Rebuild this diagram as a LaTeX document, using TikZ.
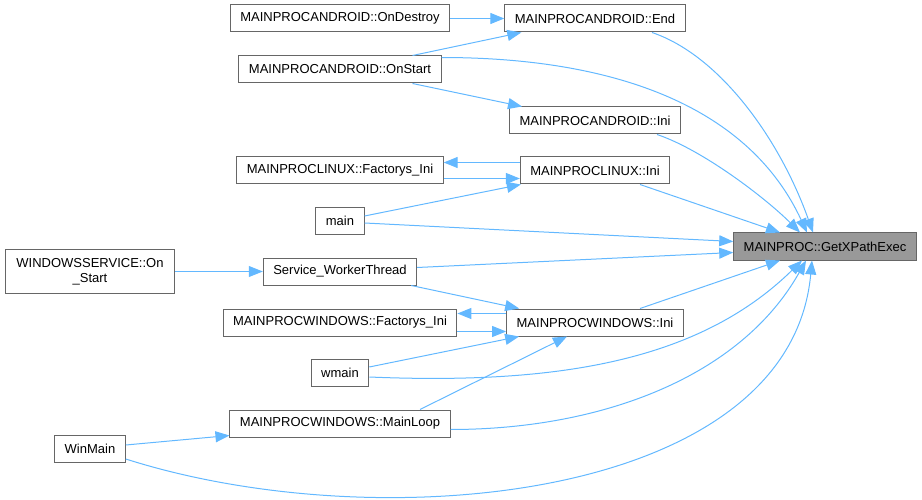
\documentclass[tikz,border=0pt]{standalone}
\usepackage{fontspec}
\setmainfont{Liberation Sans}
\usepackage{tikz}
\usetikzlibrary{arrows.meta,positioning}
\definecolor{CallBlue}{HTML}{63B8FF}
\definecolor{BoxGray}{HTML}{666666}
\definecolor{RootGray}{HTML}{999999}
\tikzset{
  fn/.style={draw=BoxGray,fill=white,line width=1pt,rectangle,minimum height=27pt,
    inner xsep=10pt,inner ysep=2pt,font=\fontsize{13}{15}\selectfont},
  rootfn/.style={fn,fill=RootGray},
  call/.style={draw=CallBlue,line width=1pt,-{Triangle[length=14pt,width=11pt]}}
}

\begin{document}
\begin{tikzpicture}[x=1pt,y=-1pt]
  \useasboundingbox (0,0) rectangle (922,500);
  \node[fn] (ondestroy) at (340,18.5) {MAINPROCANDROID::OnDestroy};
  \node[fn] (androidend) at (595,18.5) {MAINPROCANDROID::End};
  \node[fn] (onstart) at (340,69.5) {MAINPROCANDROID::OnStart};
  \node[fn] (androidini) at (595,120.5) {MAINPROCANDROID::Ini};
  \node[fn] (linuxfactorys) at (340,170.5) {MAINPROCLINUX::Factorys\_Ini};
  \node[fn] (linuxini) at (595,170.5) {MAINPROCLINUX::Ini};
  \node[fn] (mainfn) at (340,221) {main};
  \node[rootfn] (root) at (825,246.5) {MAINPROC::GetXPathExec};
  \node[fn,align=center,minimum height=43pt,inner xsep=11pt] (onstartsvc) at (90,271.5) {WINDOWSSERVICE::On\\\_Start};
  \node[fn] (workerthread) at (340,271.5) {Service\_WorkerThread};
  \node[fn] (winfactorys) at (340,322.5) {MAINPROCWINDOWS::Factorys\_Ini};
  \node[fn] (winini) at (595,322.5) {MAINPROCWINDOWS::Ini};
  \node[fn] (wmainfn) at (340,373) {wmain};
  \node[fn] (mainloop) at (340,423.5) {MAINPROCWINDOWS::MainLoop};
  \node[fn] (winmainfn) at (90,449) {WinMain};

  % android callers
  \draw[call] (ondestroy.east) -- (androidend.west);
  \draw[call] ([xshift=-29pt]onstart.north east) -- ([xshift=17pt]androidend.south west);
  \draw[call] ([xshift=-29pt]onstart.south east) -- ([xshift=13pt]androidini.north west);
  \draw[call] ([yshift=-2pt]onstart.north east) .. controls +(179,0) and +(-57,-123) .. ([xshift=-18pt]root.north);
  \draw[call] ([xshift=57pt]androidend.south) .. controls +(68,23) and +(-33,-93) .. ([xshift=-12pt]root.north);
  \draw[call] ([xshift=62pt]androidini.south) .. controls +(45,15) and +(-35,-35) .. ([xshift=-25pt]root.north);

  % linux callers
  \draw[call] ([yshift=8pt]linuxini.west) -- ([yshift=8pt]linuxfactorys.east);
  \draw[call] ([yshift=-8pt]linuxfactorys.east) -- ([yshift=-8pt]linuxini.west);
  \draw[call] ([yshift=5pt]mainfn.east) -- ([xshift=1pt]linuxini.south west);
  \draw[call] ([yshift=-2pt]mainfn.east) -- ([yshift=5pt]root.west);
  \draw[call] ([xshift=45pt]linuxini.south) -- ([xshift=-45pt]root.north);

  % windows callers
  \draw[call] (onstartsvc.east) -- (workerthread.west);
  \draw[call] ([yshift=4pt]workerthread.east) -- ([yshift=-6pt]root.west);
  \draw[call] ([xshift=-6pt]workerthread.south east) -- ([xshift=13pt]winini.north west);
  \draw[call] ([xshift=45pt]winini.north) -- ([xshift=-45pt]root.south);
  \draw[call] ([yshift=9pt]winini.west) -- ([yshift=9pt]winfactorys.east);
  \draw[call] ([yshift=-9pt]winfactorys.east) -- ([yshift=-9pt]winini.west);
  \draw[call] ([yshift=6pt]wmainfn.east) -- ([xshift=13pt]winini.south west);
  \draw[call] ([yshift=-4pt]wmainfn.east) .. controls +(190,8) and +(-102,100) .. ([xshift=-23pt]root.south);
  \draw[call] ([xshift=80pt]mainloop.north) -- ([xshift=-28pt]winini.south);
  \draw[call] ([yshift=-6pt]mainloop.east) .. controls +(150,0) and +(-66,117) .. ([xshift=-19pt]root.south);
  \draw[call] ([yshift=4pt]winmainfn.east) -- ([yshift=-12pt]mainloop.west);
  \draw[call] ([yshift=-10pt]winmainfn.east) .. controls +(254,81) and +(-22,240) .. ([xshift=-13pt]root.south);
\end{tikzpicture}
\end{document}
